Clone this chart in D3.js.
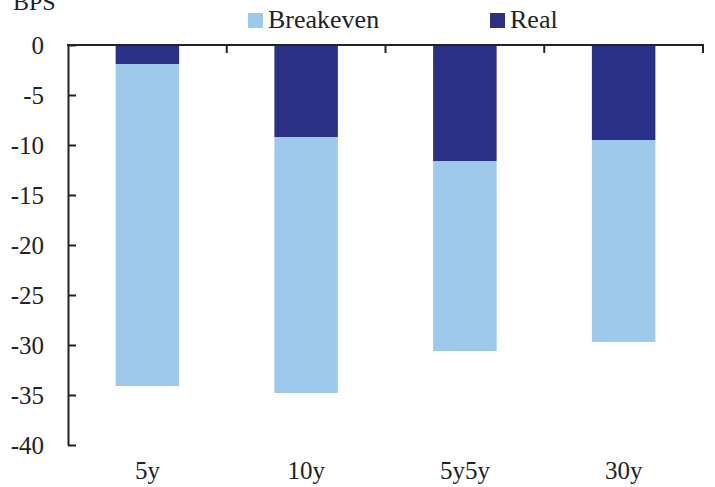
<!DOCTYPE html>
<html>
<head>
<meta charset="utf-8">
<script src="https://cdn.jsdelivr.net/npm/d3@7"></script>
<style>
  body { margin: 0; background: #fff; }
  svg text { font-family: "Liberation Serif", "Times New Roman", serif; fill: #222; }
</style>
</head>
<body>
<script>
const tenors = ['5y', '10y', '5y5y', '30y'];
const real = [-1.9, -9.2, -11.6, -9.5];
const breakeven = [-32.2, -25.6, -19.0, -20.2];
const yTicks = [0, -5, -10, -15, -20, -25, -30, -35, -40];

let width = 715, height = 487;
let plotLeft = 68, plotRight = 703, plotTop = 45, plotBottom = 445;

let rows = tenors.map((t, i) => ({ tenor: t, Real: real[i], Breakeven: breakeven[i] }));
let keys = ['Real', 'Breakeven'];
let colors = { Real: '#2a3086', Breakeven: '#9fc9eb' };

let stacked = d3.stack().keys(keys).offset(d3.stackOffsetDiverging)(rows);

let x = d3.scaleBand().domain(tenors).range([plotLeft, plotRight]).paddingInner(0.6).paddingOuter(0.3);
let y = d3.scaleLinear().domain([-40, 0]).range([plotBottom, plotTop]);

let svg = d3.select('body').append('svg')
            .attr('width', width)
            .attr('height', height);

// bars
svg.selectAll('g.series')
   .data(stacked)
   .enter()
   .append('g')
   .attr('class', 'series')
   .attr('fill', (s) => colors[s.key])
   .selectAll('rect')
   .data((s) => s)
   .enter()
   .append('rect')
   .attr('x', (d) => x(d.data.tenor))
   .attr('width', x.bandwidth())
   .attr('y', (d) => y(d[1]))
   .attr('height', (d) => y(d[0]) - y(d[1]));

// y axis
let yAxis = d3.axisLeft(y)
              .tickValues(yTicks)
              .tickFormat((d) => String(d))
              .tickSizeInner(-8)
              .tickSizeOuter(0)
              .tickPadding(24);
let gy = svg.append('g').attr('transform', 'translate(' + plotLeft + ',0)').call(yAxis);
gy.select('.domain').attr('stroke', '#222').attr('stroke-width', 2);
gy.selectAll('.tick line').attr('stroke', '#222').attr('stroke-width', 2);
gy.selectAll('.tick text').style('font-size', '25px').style('fill', '#222');

// x axis line at zero with ticks between categories
svg.append('line')
   .attr('x1', plotLeft - 1).attr('x2', plotRight + 1)
   .attr('y1', y(0)).attr('y2', y(0))
   .attr('stroke', '#222').attr('stroke-width', 2);
svg.selectAll('line.xtick')
   .data(tenors)
   .enter()
   .append('line')
   .attr('class', 'xtick')
   .attr('x1', (d) => x(d) + x.bandwidth() + (x.step() - x.bandwidth()) / 2)
   .attr('x2', (d) => x(d) + x.bandwidth() + (x.step() - x.bandwidth()) / 2)
   .attr('y1', y(0)).attr('y2', y(0) + 8)
   .attr('stroke', '#222').attr('stroke-width', 2);

// category labels at bottom
svg.selectAll('text.cat')
   .data(tenors)
   .enter()
   .append('text')
   .attr('class', 'cat')
   .attr('x', (d) => x(d) + x.bandwidth() / 2)
   .attr('y', 479)
   .attr('text-anchor', 'middle')
   .style('font-size', '25px')
   .text((d) => d);

// unit label
svg.append('text').attr('x', 13).attr('y', 10).style('font-size', '24px').text('BPS');

// legend
let legend = [{ key: 'Breakeven', x: 248 }, { key: 'Real', x: 490 }];
let lg = svg.selectAll('g.legend')
            .data(legend)
            .enter()
            .append('g')
            .attr('class', 'legend')
            .attr('transform', (d) => 'translate(' + d.x + ',13)');
lg.append('rect').attr('width', 15).attr('height', 15).attr('fill', (d) => colors[d.key]);
lg.append('text').attr('x', 20).attr('y', 15).style('font-size', '26px').text((d) => d.key);
</script>
</body>
</html>
